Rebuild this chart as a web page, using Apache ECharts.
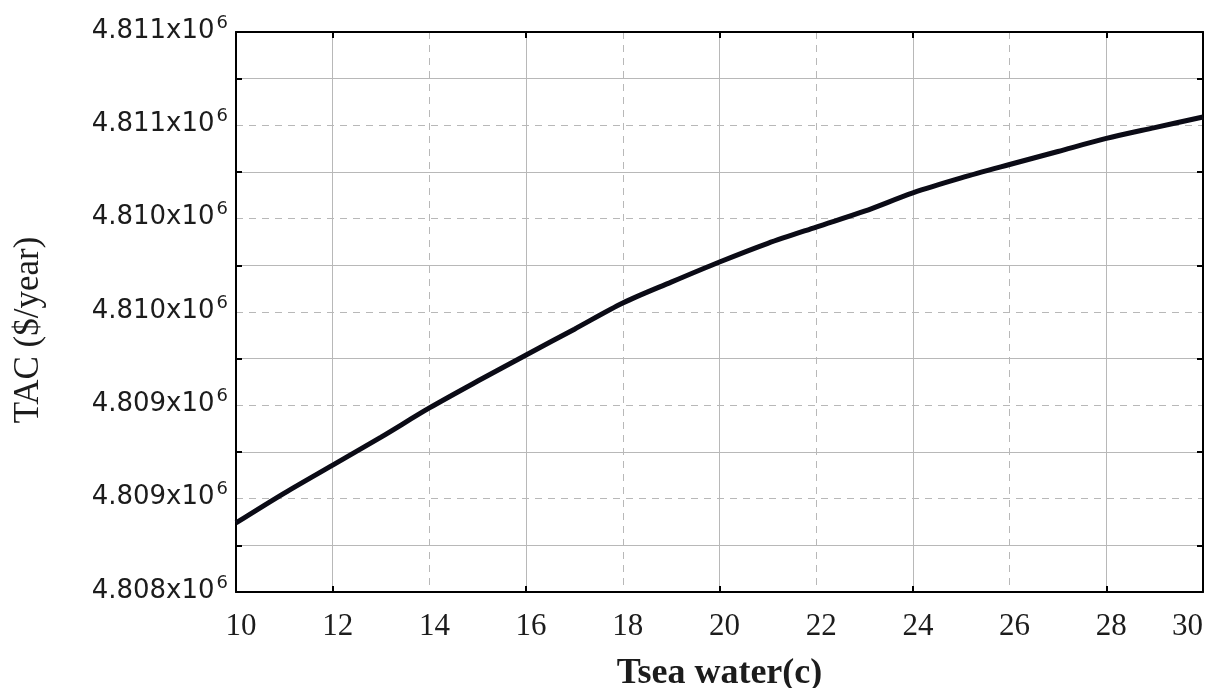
<!DOCTYPE html>
<html>
<head>
<meta charset="utf-8">
<script src="https://cdn.jsdelivr.net/npm/echarts@6/dist/echarts.min.js"></script>
<style>
  html, body { margin: 0; padding: 0; background: #fff; }
  #main { width: 1211px; height: 688px; }
</style>
</head>
<body>
<div id="main"></div>
<script>
// TAC vs sea water temperature
var tSea = [10, 11, 12, 13, 14, 15, 16, 17, 18, 19, 20, 21, 22, 23, 24, 25, 26, 27, 28, 29, 30];
var tac = [4808370, 4808530, 4808680, 4808830, 4808986, 4809130, 4809270, 4809408, 4809548, 4809660,
           4809768, 4809868, 4809955, 4810040, 4810138, 4810218, 4810290, 4810360, 4810430, 4810488, 4810545];
// tick labels as printed (rounded to 3 decimals)
var yTickLabels = ['4.808', '4.809', '4.809', '4.810', '4.810', '4.811', '4.811'];
var yMin = 4808000, yMax = 4811000, yStep = 500;

var myChart = echarts.init(document.getElementById('main'));

var gridGrey = '#b8b8b8';
var textCol = '#1c1c1c';
var serif = '"Liberation Serif", "Times New Roman", serif';
var sans = '"DejaVu Sans", Arial, sans-serif';

var option = {
  backgroundColor: '#fff',
  animation: false,
  grid: { left: 236, right: 8, top: 32, bottom: 96, containLabel: false, outerBoundsMode: 'none' },
  xAxis: [
    {   // labels every 2
      type: 'value', min: 10, max: 30, interval: 2, position: 'bottom',
      axisLine: { show: true, lineStyle: { color: '#000', width: 2 } },
      axisTick: { show: false },
      splitLine: { show: false },
      axisLabel: {
        margin: 19, color: textCol, fontFamily: serif, fontSize: 31,
        padding: [0, 0, 0, 10], alignMaxLabel: 'right'
      },
      name: 'Tsea water(c)', nameLocation: 'middle', nameGap: 64,
      nameTextStyle: { color: textCol, fontWeight: 'bold', fontSize: 36, fontFamily: serif }
    },
    {   // grid: dashed at 14,18,22,26 and solid in between
      type: 'value', min: 10, max: 30, interval: 4, position: 'bottom',
      axisLine: { show: false },
      axisTick: { show: false, inside: true },
      axisLabel: { show: false },
      splitLine: { show: true, lineStyle: { color: gridGrey, type: [7, 6], width: 1 } },
      minorTick: { show: true, splitNumber: 2, length: 6, lineStyle: { color: '#000', width: 2 } },
      minorSplitLine: { show: true, lineStyle: { color: gridGrey, width: 1 } }
    },
    {   // top frame
      type: 'value', min: 10, max: 30, interval: 4, position: 'top',
      axisLine: { show: true, lineStyle: { color: '#000', width: 2 } },
      axisTick: { show: false, inside: true },
      axisLabel: { show: false },
      splitLine: { show: false },
      minorTick: { show: true, splitNumber: 2, length: 6, lineStyle: { color: '#000', width: 2 } }
    }
  ],
  yAxis: [
    {
      type: 'value', min: yMin, max: yMax, interval: yStep, position: 'left',
      axisLine: { show: true, lineStyle: { color: '#000', width: 2 } },
      axisTick: { show: false, inside: true },
      splitLine: { show: true, lineStyle: { color: gridGrey, type: [7, 6], width: 1 } },
      minorTick: { show: true, splitNumber: 2, length: 6, lineStyle: { color: '#000', width: 2 } },
      minorSplitLine: { show: true, lineStyle: { color: gridGrey, width: 1 } },
      axisLabel: {
        margin: 8,
        formatter: function (v) {
          var i = Math.round((v - yMin) / yStep);
          return '{a|' + yTickLabels[i] + 'x10}{b|6}';
        },
        rich: {
          a: { color: textCol, fontSize: 26, fontFamily: sans, verticalAlign: 'bottom', padding: [0, 0, 6, 0] },
          b: { color: textCol, fontSize: 18, fontFamily: sans, verticalAlign: 'bottom', padding: [0, 0, 18, 2] }
        }
      },
      name: 'TAC ($/year)', nameLocation: 'middle', nameGap: 190,
      nameTextStyle: { color: textCol, fontSize: 35, fontFamily: serif, padding: [0, 36, 0, 0] }
    },
    {   // right frame
      type: 'value', min: yMin, max: yMax, interval: yStep, position: 'right',
      axisLine: { show: true, lineStyle: { color: '#000', width: 2 } },
      axisTick: { show: false, inside: true },
      axisLabel: { show: false },
      splitLine: { show: false },
      minorTick: { show: true, splitNumber: 2, length: 6, lineStyle: { color: '#000', width: 2 } }
    }
  ],
  series: [
    {
      name: 'TAC',
      type: 'line',
      xAxisIndex: 0,
      yAxisIndex: 0,
      smooth: 0.3,
      symbol: 'none',
      lineStyle: { color: '#0b0b16', width: 5 },
      data: tSea.map(function (t, i) { return [t, tac[i]]; }),
      z: 5
    }
  ]
};
myChart.setOption(option);
</script>
</body>
</html>
